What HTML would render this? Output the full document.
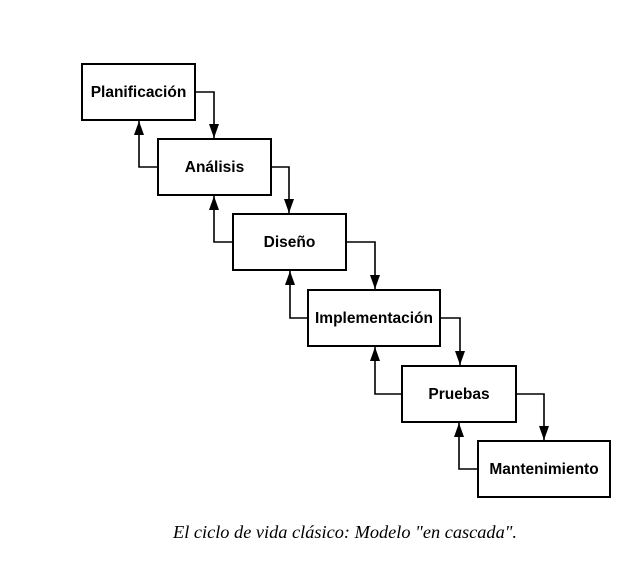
<!DOCTYPE html>
<html><head><meta charset="utf-8"><style>html,body{margin:0;padding:0;background:#fff}svg{display:block}</style></head>
<body>
<svg width="643" height="561" viewBox="0 0 643 561" xmlns="http://www.w3.org/2000/svg">
<defs>
<marker id="a" markerWidth="14" markerHeight="10" refX="14" refY="5" orient="auto" markerUnits="userSpaceOnUse" viewBox="0 0 14 10">
<path d="M0,0 L14,5 L0,10 z" fill="#000"/>
</marker>
</defs>
<g fill="#fff" stroke="#000" stroke-width="2">
<rect x="82" y="64" width="113" height="56"/>
<rect x="158" y="139" width="113" height="56"/>
<rect x="233" y="214" width="113" height="56"/>
<rect x="308" y="290" width="132" height="56"/>
<rect x="402" y="366" width="114" height="56"/>
<rect x="478" y="441" width="132" height="56"/>
</g>
<g fill="none" stroke="#000" stroke-width="1.6">
<polyline points="195,92 214,92 214,138" marker-end="url(#a)"/>
<polyline points="271,167 289,167 289,213" marker-end="url(#a)"/>
<polyline points="346,242 375,242 375,289" marker-end="url(#a)"/>
<polyline points="440,318 460,318 460,365" marker-end="url(#a)"/>
<polyline points="516,394 544,394 544,440" marker-end="url(#a)"/>
<polyline points="158,167 139,167 139,121" marker-end="url(#a)"/>
<polyline points="233,242 214,242 214,196" marker-end="url(#a)"/>
<polyline points="308,318 290,318 290,271" marker-end="url(#a)"/>
<polyline points="402,394 375,394 375,347" marker-end="url(#a)"/>
<polyline points="478,469 459,469 459,423" marker-end="url(#a)"/>
</g>
<g font-family="Liberation Sans, sans-serif" font-weight="bold" font-size="15.5" text-anchor="middle" fill="#000">
<text x="138.5" y="97">Planificación</text>
<text x="214.5" y="172">Análisis</text>
<text x="289.5" y="247">Diseño</text>
<text x="374" y="323">Implementación</text>
<text x="459" y="399">Pruebas</text>
<text x="544" y="474">Mantenimiento</text>
</g>
<text x="173" y="538" font-family="Liberation Serif, serif" font-style="italic" font-size="17.5" textLength="344" lengthAdjust="spacingAndGlyphs" fill="#000">El ciclo de vida clásico: Modelo "en cascada".</text>
</svg>
</body></html>
